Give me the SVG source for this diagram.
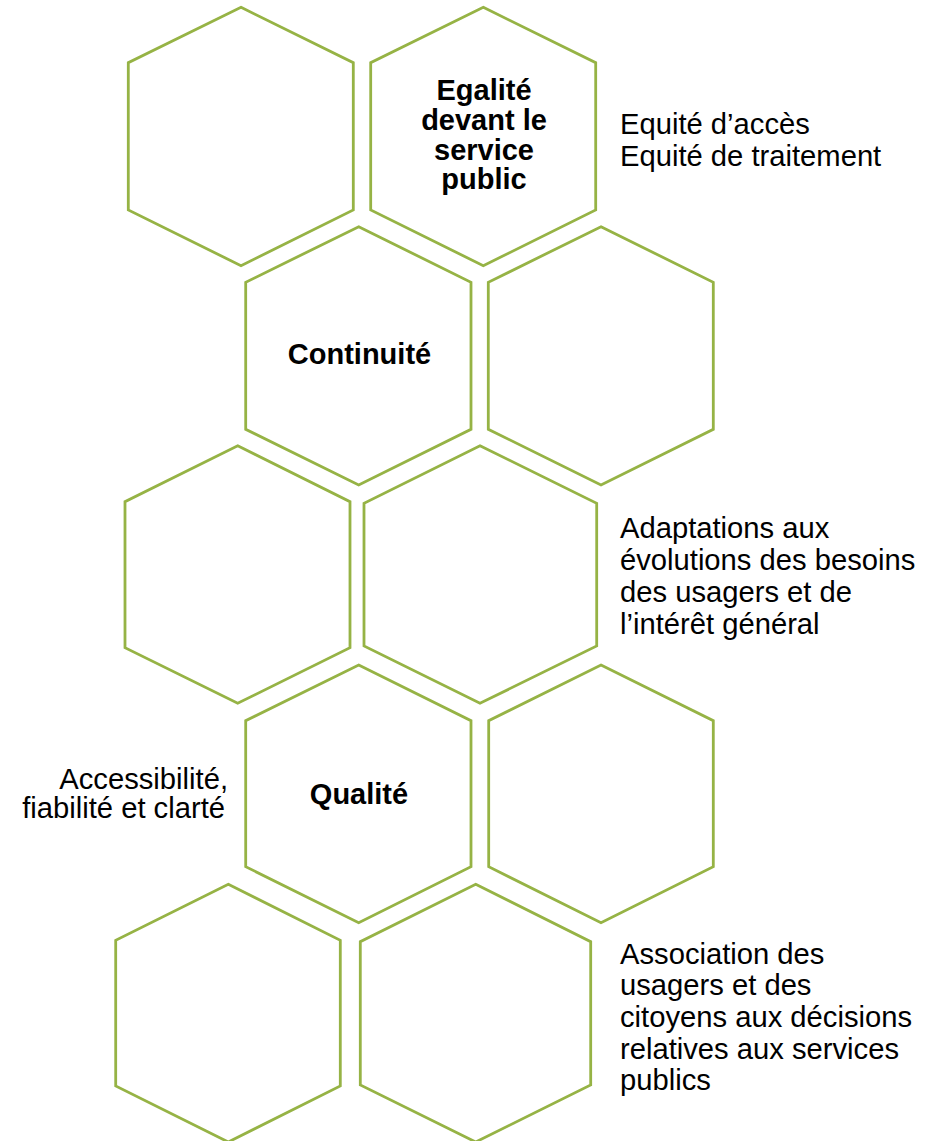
<svg xmlns="http://www.w3.org/2000/svg" width="943" height="1141" viewBox="0 0 943 1141">
<style>
.hex{fill:#FFFFFF;stroke:#96B345;stroke-width:2.8;stroke-linejoin:miter}
.b{font-family:"Liberation Sans",Arial,sans-serif;font-weight:bold;font-size:29px;fill:#000;text-anchor:middle}
.r{font-family:"Liberation Sans",Arial,sans-serif;font-size:29.2px;fill:#000}
</style>
<rect width="943" height="1141" fill="#FFFFFF"/>
<g id="hex-a"><polygon class="hex" points="241,7.3 353.3,62.7 353.3,210 241,265.7 128.3,210 128.3,62.7"/></g>
<g id="hex-b"><polygon class="hex" points="483.3,7.3 595.7,62.7 595.7,210 483.3,265.7 370.7,210 370.7,62.7"/>
<text class="b" x="484" y="100">Egalité</text>
<text class="b" x="484" y="130">devant le</text>
<text class="b" x="484" y="160">service</text>
<text class="b" x="484" y="189">public</text></g>
<g id="hex-c"><polygon class="hex" points="358.7,226.7 471,282.3 471,429.3 358.7,485 245.7,429.3 245.7,282.3"/>
<text class="b" x="359.5" y="363.5">Continuité</text></g>
<g id="hex-d"><polygon class="hex" points="601,226.7 713.3,282.3 713.3,429.3 601,485 488.3,429.3 488.3,282.3"/></g>
<g id="hex-e"><polygon class="hex" points="237.7,445.7 350,501.7 350,647.7 237.7,703.3 125,647.7 125,501.7"/></g>
<g id="hex-f"><polygon class="hex" points="480,445.7 596.7,503.3 596.7,646 480,703.3 364,646 364,503.3"/></g>
<g id="hex-g"><polygon class="hex" points="358.7,665 471,720.7 471,866.7 358.7,922.7 245.7,866.7 245.7,720.7"/>
<text class="b" x="359" y="804">Qualité</text></g>
<g id="hex-h"><polygon class="hex" points="601,665 713.3,720.7 713.3,866.7 601,922.7 488.7,866.7 488.7,720.7"/></g>
<g id="hex-i"><polygon class="hex" points="228.3,884.3 340.3,940.3 340.3,1086 228.3,1142 115.7,1086 115.7,940.3"/></g>
<g id="hex-j"><polygon class="hex" points="475.7,884.3 590.7,941.7 590.7,1085 475.7,1142 360.3,1085 360.3,941.7"/></g>
<g id="label-egalite">
<text class="r" x="620" y="134">Equité d’accès</text>
<text class="r" x="620" y="166">Equité de traitement</text></g>
<g id="label-adaptation">
<text class="r" x="620" y="537.5">Adaptations aux</text>
<text class="r" x="620" y="569.5">évolutions des besoins</text>
<text class="r" x="620" y="601.5">des usagers et de</text>
<text class="r" x="620" y="633.5">l’intérêt général</text></g>
<g id="label-qualite">
<text class="r" x="228" y="788.5" text-anchor="end">Accessibilité,</text>
<text class="r" x="225" y="817.5" text-anchor="end">fiabilité et clarté</text></g>
<g id="label-association">
<text class="r" x="620" y="963.5">Association des</text>
<text class="r" x="620" y="995">usagers et des</text>
<text class="r" x="620" y="1026.5">citoyens aux décisions</text>
<text class="r" x="620" y="1058.5">relatives aux services</text>
<text class="r" x="620" y="1090">publics</text></g>
<g id="connectors"></g>
</svg>
